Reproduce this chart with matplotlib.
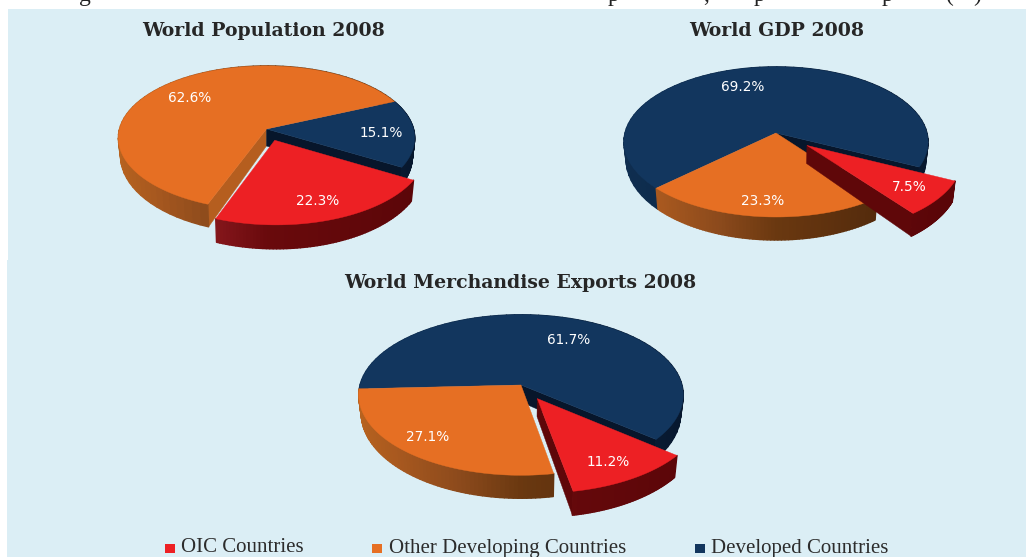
import numpy as np
import matplotlib
matplotlib.use("Agg")
import matplotlib.pyplot as plt
from matplotlib.collections import PolyCollection
from matplotlib.colors import to_rgb
from matplotlib.patches import Rectangle

# ---- data -------------------------------------------------------------
charts = ["World Population 2008", "World GDP 2008", "World Merchandise Exports 2008"]
groups = ["OIC Countries", "Other Developing Countries", "Developed Countries"]
oic_share = [22.3, 7.5, 11.2]
other_share = [62.6, 23.3, 27.1]
developed_share = [15.1, 69.2, 61.7]

# ---- layout (pixels of the 1026x557 canvas) ----------------------------
W, H = 1026, 557
apex_x = [266.5, 776, 521]
apex_y = [129, 133, 385]
radius_x = [147, 151, 161]
radius_y = [71, 74, 79]
tilt = [0.125, 0.119, 0.125]
start_angle = [-30.4, -25.9, -39.4]
explode = [0.165, 0.26, 0.195]
title_xy = [(263.5, 30.5), (776.5, 30.5), (520, 283.5)]
label_xy = [
    [(318, 201), (190, 98), (381, 133)],
    [(909, 187), (763, 201), (743, 87)],
    [(608, 462), (428, 437), (569, 340)],
]
legend_box_x = [165, 372, 695]
legend_text_x = [181, 389, 711]
top_colors = ["#ed2024", "#e66f23", "#12365e"]
face_colors = ["#5f0709", "#b55e1f", "#07162b"]
side_stops = [
    [(0.0, "#a01f24"), (0.3, "#8e1a20"), (0.5, "#690a0c"), (1.0, "#5a0508")],
    [(0.0, "#b8631f"), (0.14, "#a9591f"), (0.33, "#8c4a1c"), (0.5, "#6a3810"), (0.8, "#542b0c"), (1.0, "#542b0c")],
    [(0.0, "#0f2e50"), (0.5, "#0c2644"), (1.0, "#07172d")],
]
BG = "#dbeef5"
DEPTH_BASE, DEPTH_VAR = 17.0, 6.0


def project(u, v, i):
    den = 1 + tilt[i] * v
    return apex_x[i] + radius_x[i] * u / den, apex_y[i] - radius_y[i] * v / den


def project_low(u, v, i):
    x, y = project(u, v, i)
    return apex_x[i] + (x - apex_x[i]) * 0.985, y + DEPTH_BASE - DEPTH_VAR * v


def side_color(u, stops):
    t = (u + 1) / 2
    ts = [s[0] for s in stops]
    cs = np.array([to_rgb(s[1]) for s in stops])
    return tuple(np.interp(t, ts, cs[:, k]) for k in range(3))


def radial_face(ax, a, off, i, color, z):
    u, v = np.cos(a), np.sin(a)
    pts = [project(off[0], off[1], i), project(off[0] + u, off[1] + v, i),
           project_low(off[0] + u, off[1] + v, i), project_low(off[0], off[1], i)]
    ax.fill(*zip(*pts), color=color, lw=0.3, zorder=z)


def draw_side(ax, a1, a2, off, i, s, z):
    th = np.linspace(a1, a2, 70)
    us, vs = off[0] + np.cos(th), off[1] + np.sin(th)
    quads, cols = [], []
    for k in range(len(th) - 1):
        quads.append([project(us[k], vs[k], i), project(us[k + 1], vs[k + 1], i),
                      project_low(us[k + 1], vs[k + 1], i), project_low(us[k], vs[k], i)])
        cols.append(side_color((us[k] + us[k + 1]) / 2, side_stops[s]))
    ax.add_collection(PolyCollection(quads, facecolors=cols, edgecolors=cols, linewidths=1.0, zorder=z))


def draw_top(ax, a1, a2, off, i, s, z):
    th = np.linspace(a1, a2, 200)
    us, vs = off[0] + np.cos(th), off[1] + np.sin(th)
    top = [project(off[0], off[1], i)] + [project(a, b, i) for a, b in zip(us, vs)]
    ax.fill(*zip(*top), color=top_colors[s], lw=0.3, zorder=z)


fig = plt.figure(figsize=(W / 100, H / 100), dpi=100, facecolor="white")
ax = fig.add_axes([0, 0, 1, 1])
ax.set_xlim(0, W)
ax.set_ylim(H, 0)
ax.axis("off")

ax.add_patch(Rectangle((8, 9), W - 8, 251, color=BG, lw=0, zorder=0))
ax.add_patch(Rectangle((7, 260), W - 7, H - 260, color=BG, lw=0, zorder=0))

serif = "Liberation Serif"
for ch, x in zip(["g", "p", ",", "p", "p", "(", ")"], [85, 613, 706, 760, 888, 950, 977]):
    ax.text(x, 1, ch, family=serif, fontsize=17, ha="center", va="baseline", color="#222222", zorder=-1)

for i, title in enumerate(charts):
    shares = [oic_share[i], other_share[i], developed_share[i]]
    edges = np.radians(start_angle[i] - np.cumsum([0] + shares) * 3.6)
    spans = [(edges[s], edges[s + 1]) for s in range(3)]
    mid = (spans[0][0] + spans[0][1]) / 2
    offsets = [(explode[i] * np.cos(mid), explode[i] * np.sin(mid)), (0, 0), (0, 0)]
    # cut faces of the two fixed slices: only the edges next to the pulled-out slice show
    if np.cos(spans[1][0]) < 0:
        radial_face(ax, spans[1][0], offsets[1], i, face_colors[1], 2)
    if np.cos(spans[2][1]) > 0:
        radial_face(ax, spans[2][1], offsets[2], i, face_colors[2], 2)
    draw_side(ax, *spans[2], offsets[2], i, 2, 2.2)
    draw_side(ax, *spans[1], offsets[1], i, 1, 2.4)
    draw_top(ax, *spans[2], offsets[2], i, 2, 3)
    draw_top(ax, *spans[1], offsets[1], i, 1, 4)
    # the pulled-out slice sits in front of everything
    if np.cos(spans[0][1]) > 0:
        radial_face(ax, spans[0][1], offsets[0], i, face_colors[0], 5)
    if np.cos(spans[0][0]) < 0:
        radial_face(ax, spans[0][0], offsets[0], i, face_colors[0], 5)
    draw_side(ax, *spans[0], offsets[0], i, 0, 5.2)
    draw_top(ax, *spans[0], offsets[0], i, 0, 6)
    for val, (x, y) in zip(shares, label_xy[i]):
        ax.text(x, y, f"{val:.1f}%", color="white", fontsize=9.8, family="DejaVu Sans",
                ha="center", va="center", zorder=8)
    ax.text(*title_xy[i], title, family="DejaVu Serif", fontweight="bold", fontsize=13.6,
            ha="center", va="center", color="#262626", zorder=8)

for name, bx, tx, col in zip(groups, legend_box_x, legend_text_x, top_colors):
    ax.add_patch(Rectangle((bx, 544), 10, 9, color=col, lw=0, zorder=8))
    ax.text(tx, 552.5, name, family=serif, fontsize=15, ha="left", va="baseline", color="#2c2c2c", zorder=8)

fig.savefig("out.png", dpi=100, facecolor="white")
